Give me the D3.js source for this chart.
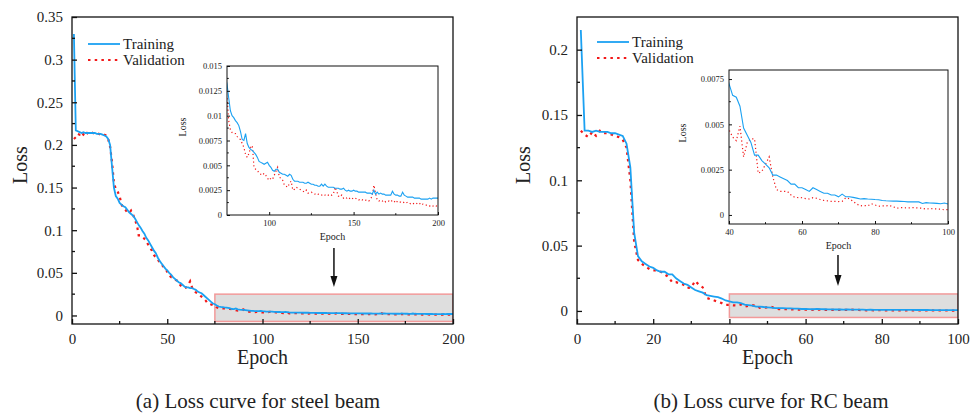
<!DOCTYPE html>
<html>
<head>
<meta charset="utf-8">
<script src="https://cdn.jsdelivr.net/npm/d3@7"></script>
<style>
  body { margin: 0; background: #fff; }
  text { font-family: "Times New Roman", "Liberation Serif", serif; fill: #222; }
</style>
</head>
<body>
<svg id="chart" width="976" height="413"></svg>
<script>
// ---- data ----
const trainA = [
  0.330, 0.217, 0.216, 0.215, 0.214, 0.215, 0.214, 0.214, 0.214, 0.214,
  0.214, 0.214, 0.213, 0.213, 0.213, 0.212, 0.211, 0.210, 0.207, 0.200,
  0.175, 0.150, 0.140, 0.137, 0.132, 0.130, 0.128, 0.127, 0.124, 0.121,
  0.119, 0.117, 0.114, 0.110, 0.106, 0.103, 0.099, 0.096, 0.091, 0.088,
  0.084, 0.080, 0.076, 0.073, 0.068, 0.064, 0.061, 0.058, 0.055, 0.053,
  0.050, 0.048, 0.045, 0.043, 0.041, 0.039, 0.038, 0.036, 0.034, 0.033,
  0.033, 0.032, 0.032, 0.031, 0.030, 0.028, 0.027, 0.026, 0.024, 0.022,
  0.020, 0.018, 0.016, 0.014, 0.0132, 0.0118, 0.0105, 0.0100, 0.0098, 0.0095,
  0.0093, 0.0090, 0.0084, 0.0076, 0.0075, 0.0082, 0.0072, 0.0068, 0.0066, 0.0065,
  0.0063, 0.0061, 0.0058, 0.0054, 0.0053, 0.0052, 0.0051, 0.0052, 0.0053, 0.0050,
  0.0048, 0.0045, 0.0044, 0.0046, 0.0046, 0.0043, 0.0042, 0.0041, 0.0041, 0.0040,
  0.0039, 0.0041, 0.0040, 0.0036, 0.0034, 0.0034, 0.0034, 0.0033, 0.0033, 0.0033,
  0.0032, 0.0032, 0.0033, 0.0032, 0.0031, 0.0031, 0.0030, 0.0030, 0.0029, 0.0029,
  0.0031, 0.0029, 0.0031, 0.0029, 0.0028, 0.0028, 0.0028, 0.0028, 0.0027, 0.0027,
  0.0027, 0.0026, 0.0026, 0.0027, 0.0025, 0.0024, 0.0025, 0.0024, 0.0024, 0.0025,
  0.0024, 0.0024, 0.0023, 0.0023, 0.0023, 0.0023, 0.0023, 0.0022, 0.0022, 0.0022,
  0.0021, 0.0025, 0.0021, 0.0023, 0.0021, 0.0022, 0.0021, 0.0021, 0.0020, 0.0020,
  0.0020, 0.0020, 0.0024, 0.0021, 0.0020, 0.0020, 0.0019, 0.0019, 0.0023, 0.0020,
  0.0019, 0.0018, 0.0018, 0.0018, 0.0018, 0.0017, 0.0017, 0.0017, 0.0017, 0.0016,
  0.0016, 0.0016, 0.0016, 0.0016, 0.0017, 0.0016, 0.0017, 0.0017, 0.0017, 0.0017
];
const valA = [
  0.207, 0.209, 0.213, 0.212, 0.215, 0.212, 0.210, 0.214, 0.213, 0.215,
  0.214, 0.213, 0.214, 0.213, 0.212, 0.213, 0.212, 0.211, 0.207, 0.198,
  0.180, 0.156, 0.148, 0.145, 0.140, 0.130, 0.126, 0.124, 0.121, 0.120,
  0.123, 0.119, 0.112, 0.107, 0.094, 0.094, 0.092, 0.090, 0.087, 0.083,
  0.079, 0.076, 0.071, 0.068, 0.066, 0.062, 0.060, 0.057, 0.055, 0.051,
  0.047, 0.045, 0.044, 0.042, 0.041, 0.038, 0.035, 0.033, 0.032, 0.033,
  0.036, 0.040, 0.033, 0.030, 0.027, 0.026, 0.024, 0.022, 0.020, 0.018,
  0.015, 0.014, 0.013, 0.012, 0.0120, 0.0095, 0.0086, 0.0083, 0.0082, 0.0082,
  0.0079, 0.0077, 0.0076, 0.0072, 0.0068, 0.0061, 0.0058, 0.0062, 0.0068, 0.0070,
  0.0048, 0.0046, 0.0045, 0.0042, 0.0041, 0.0040, 0.0042, 0.0040, 0.0037, 0.0035,
  0.0037, 0.0036, 0.0040, 0.0044, 0.0048, 0.0038, 0.0037, 0.0035, 0.0030, 0.0029,
  0.0028, 0.0032, 0.0034, 0.0025, 0.0026, 0.0028, 0.0027, 0.0026, 0.0025, 0.0024,
  0.0023, 0.0025, 0.0022, 0.0022, 0.0023, 0.0022, 0.0021, 0.0022, 0.0021, 0.0020,
  0.0020, 0.0021, 0.0020, 0.0021, 0.0020, 0.0019, 0.0020, 0.0021, 0.0028, 0.0024,
  0.0019, 0.0018, 0.0020, 0.0017, 0.0018, 0.0017, 0.0018, 0.0016, 0.0017, 0.0016,
  0.0017, 0.0016, 0.0015, 0.0016, 0.0015, 0.0016, 0.0015, 0.0015, 0.0014, 0.0016,
  0.0019, 0.0030, 0.0022, 0.0015, 0.0014, 0.0015, 0.0014, 0.0015, 0.0013, 0.0014,
  0.0014, 0.0013, 0.0015, 0.0014, 0.0012, 0.0014, 0.0013, 0.0013, 0.0012, 0.0013,
  0.0012, 0.0013, 0.0012, 0.0011, 0.0012, 0.0011, 0.0012, 0.0011, 0.0012, 0.0010,
  0.0011, 0.0010, 0.0010, 0.0010, 0.0009, 0.0010, 0.0009, 0.0010, 0.0009, 0.0010
];
const trainB = [
  0.215, 0.138, 0.138, 0.137, 0.138, 0.137, 0.137, 0.137, 0.136, 0.136,
  0.135, 0.134, 0.128, 0.110, 0.060, 0.042, 0.038, 0.036, 0.034, 0.033,
  0.031, 0.030, 0.030, 0.028, 0.028, 0.025, 0.023, 0.021, 0.020, 0.018,
  0.016, 0.015, 0.014, 0.012, 0.0115, 0.011, 0.0105, 0.0095, 0.0080, 0.00725,
  0.0066, 0.0065, 0.0060, 0.0048, 0.0044, 0.0040, 0.0033, 0.0033, 0.0030, 0.0028,
  0.0026, 0.0022, 0.0022, 0.0021, 0.0020, 0.0019, 0.0017, 0.0017, 0.0015, 0.0015,
  0.0014, 0.0013, 0.0015, 0.0014, 0.0013, 0.0012, 0.0012, 0.0011, 0.0011, 0.0010,
  0.00115, 0.0010, 0.0010, 0.00097, 0.00093, 0.00088, 0.00090, 0.00088, 0.00087, 0.00085,
  0.00084, 0.00080, 0.00078, 0.00077, 0.00076, 0.00076, 0.00075, 0.00074, 0.00072, 0.00073,
  0.00072, 0.00072, 0.00063, 0.00068, 0.00066, 0.00065, 0.00064, 0.00062, 0.00066, 0.00060
];
const valB = [
  0.138, 0.135, 0.133, 0.137, 0.134, 0.138, 0.136, 0.136, 0.135, 0.134,
  0.133, 0.131, 0.125, 0.100, 0.053, 0.039, 0.036, 0.034, 0.032, 0.031,
  0.031, 0.030, 0.028, 0.026, 0.022, 0.022, 0.021, 0.020, 0.0176, 0.018,
  0.023, 0.020, 0.018, 0.010, 0.009, 0.008, 0.007, 0.006, 0.0046, 0.0047,
  0.0043, 0.0041, 0.0049, 0.0032, 0.0040, 0.0042, 0.0042, 0.0023, 0.0024, 0.0028,
  0.0032, 0.0021, 0.0014, 0.0013, 0.0013, 0.0013, 0.0011, 0.00097, 0.00096, 0.00095,
  0.00090, 0.00088, 0.00095, 0.00092, 0.00085, 0.00080, 0.00078, 0.00075, 0.00075, 0.00074,
  0.00075, 0.00095, 0.00090, 0.00075, 0.00060, 0.00050, 0.00052, 0.00050, 0.00062, 0.00055,
  0.00048, 0.00050, 0.00050, 0.00052, 0.00045, 0.00037, 0.00040, 0.00040, 0.00039, 0.00040,
  0.00040, 0.00038, 0.00037, 0.00032, 0.00035, 0.00034, 0.00033, 0.00032, 0.00028, 0.00030
];

const seriesNames = ["Training", "Validation"];
const captions = ["(a) Loss curve for steel beam", "(b) Loss curve for RC beam"];

const mainXTicksA = [0, 50, 100, 150, 200];
const mainYTicksA = [0, 0.05, 0.1, 0.15, 0.2, 0.25, 0.3, 0.35];
const mainXTicksB = [0, 20, 40, 60, 80, 100];
const mainYTicksB = [0, 0.05, 0.1, 0.15, 0.2];
const insetXTicksA = [100, 150, 200];
const insetYTicksA = [0, 0.0025, 0.005, 0.0075, 0.01, 0.0125, 0.015];
const insetXTicksB = [40, 60, 80, 100];
const insetYTicksB = [0, 0.0025, 0.005, 0.0075];

const BLUE = "#1ba1f2";
const RED = "#f21818";
const FONT = '"Times New Roman", "Liberation Serif", serif';

const svg = d3.select("#chart");
svg.append("rect").attr("width", 976).attr("height", 413).attr("fill", "#fff");

let clipId = 0;

// draw one framed plot (used for both main charts and insets)
function drawPlot(o) {
  const x = d3.scaleLinear().domain(o.xDomain).range([o.left, o.right]);
  const y = d3.scaleLinear().domain(o.yDomain).range([o.bottom, o.top]);
  const g = svg.append("g");

  const id = "clip" + (clipId++);
  g.append("clipPath").attr("id", id).append("rect")
    .attr("x", o.left).attr("y", o.top)
    .attr("width", o.right - o.left).attr("height", o.bottom - o.top);

  const plot = g.append("g").attr("clip-path", "url(#" + id + ")");

  // zoom region marker
  if (o.zoomBox) {
    const b = o.zoomBox;
    plot.append("rect")
      .attr("x", x(b.x0)).attr("y", y(b.y1))
      .attr("width", x(b.x1) - x(b.x0)).attr("height", y(b.y0) - y(b.y1))
      .attr("fill", "#dedede").attr("stroke", "#f29a9a").attr("stroke-width", 1.5);
  }

  const line = d3.line()
    .x((d, i) => x(i + 1))
    .y(d => y(d));

  plot.append("path").datum(o.val)
    .attr("d", line).attr("fill", "none")
    .attr("stroke", RED).attr("stroke-width", o.valWidth)
    .attr("stroke-dasharray", o.valDash);
  plot.append("path").datum(o.train)
    .attr("d", line).attr("fill", "none")
    .attr("stroke", BLUE).attr("stroke-width", o.trainWidth);

  // axes with inward ticks
  const xAxis = d3.axisBottom(x).tickValues(o.xTicks).tickSizeInner(-o.tick).tickSizeOuter(0)
    .tickPadding(o.tick + o.pad).tickFormat(d => String(d));
  const yAxis = d3.axisLeft(y).tickValues(o.yTicks).tickSizeInner(-o.tick).tickSizeOuter(0)
    .tickPadding(o.tick + o.pad).tickFormat(d => String(d));

  const xa = g.append("g").attr("transform", "translate(0," + o.bottom + ")").call(xAxis);
  const ya = g.append("g").attr("transform", "translate(" + o.left + ",0)").call(yAxis);
  [xa, ya].forEach(a => {
    a.attr("font-family", FONT);
    a.select(".domain").remove();
    a.selectAll("line").attr("stroke", "#111").attr("stroke-width", o.frameWidth);
    a.selectAll("text").attr("font-size", o.tickFont)
      .style("font-family", FONT).attr("fill", "#222");
  });

  // minor ticks
  const minor = g.append("g");
  o.xMinor.forEach(v => {
    minor.append("line").attr("x1", x(v)).attr("x2", x(v))
      .attr("y1", o.bottom).attr("y2", o.bottom - o.tick * 0.6)
      .attr("stroke", "#111").attr("stroke-width", o.frameWidth);
  });
  o.yMinor.forEach(v => {
    minor.append("line").attr("x1", o.left).attr("x2", o.left + o.tick * 0.6)
      .attr("y1", y(v)).attr("y2", y(v))
      .attr("stroke", "#111").attr("stroke-width", o.frameWidth);
  });

  // frame
  g.append("rect")
    .attr("x", o.left).attr("y", o.top)
    .attr("width", o.right - o.left).attr("height", o.bottom - o.top)
    .attr("fill", "none").attr("stroke", "#111").attr("stroke-width", o.frameWidth);

  // axis titles
  g.append("text")
    .attr("x", (o.left + o.right) / 2).attr("y", o.xTitleY)
    .attr("text-anchor", "middle").attr("font-size", o.titleFont)
    .text("Epoch");
  g.append("text")
    .attr("transform", "translate(" + o.yTitleX + "," + o.yTitleY + ") rotate(-90)")
    .attr("text-anchor", "middle").attr("font-size", o.titleFont)
    .text("Loss");

  return { x, y };
}

function legend(x0, y0) {
  const g = svg.append("g");
  g.append("line").attr("x1", x0).attr("x2", x0 + 32).attr("y1", y0).attr("y2", y0)
    .attr("stroke", BLUE).attr("stroke-width", 1.8);
  g.append("line").attr("x1", x0).attr("x2", x0 + 32).attr("y1", y0 + 16).attr("y2", y0 + 16)
    .attr("stroke", RED).attr("stroke-width", 2.2).attr("stroke-dasharray", "2.5,4.2");
  seriesNames.forEach((n, i) => {
    g.append("text").attr("x", x0 + 35).attr("y", y0 + 5 + i * 16)
      .attr("font-size", 15).text(n);
  });
}

function arrow(xp, y0, y1) {
  svg.append("line").attr("x1", xp).attr("x2", xp).attr("y1", y0).attr("y2", y1 - 9)
    .attr("stroke", "#111").attr("stroke-width", 1.5);
  svg.append("path")
    .attr("d", "M" + (xp - 3.5) + "," + (y1 - 11) + "L" + (xp + 3.5) + "," + (y1 - 11) + "L" + xp + "," + y1 + "Z")
    .attr("fill", "#111");
}

const mainStyle = {
  tick: 5, pad: 4, tickFont: 15, titleFont: 20, frameWidth: 1.3,
  trainWidth: 1.8, valWidth: 2.2, valDash: "2.5,4.2"
};
const insetStyle = {
  tick: 3, pad: 2, tickFont: 8.5, titleFont: 10, frameWidth: 1,
  trainWidth: 1.1, valWidth: 1.2, valDash: "1.2,2.6"
};

// ---- panel (a) ----
const mA = drawPlot(Object.assign({}, mainStyle, {
  left: 72, right: 453, top: 17, bottom: 324,
  xDomain: [0, 200], yDomain: [-0.01, 0.35],
  xTicks: mainXTicksA, yTicks: mainYTicksA,
  xMinor: [25, 75, 125, 175], yMinor: [0.025, 0.075, 0.125, 0.175, 0.225, 0.275, 0.325],
  train: trainA, val: valA,
  zoomBox: { x0: 75, x1: 200, y0: -0.007, y1: 0.025 },
  xTitleY: 364, yTitleX: 27, yTitleY: 165
}));
svg.append("rect").attr("x", 226).attr("y", 65).attr("width", 213).attr("height", 151).attr("fill", "#fff");
drawPlot(Object.assign({}, insetStyle, {
  left: 227, right: 438, top: 66, bottom: 215,
  xDomain: [75, 200], yDomain: [0, 0.015],
  xTicks: insetXTicksA, yTicks: insetYTicksA,
  xMinor: [125, 175], yMinor: [0.00125, 0.00375, 0.00625, 0.00875, 0.01125, 0.01375],
  train: trainA, val: valA,
  xTitleY: 240, yTitleX: 186, yTitleY: 127
}));
legend(88, 44);
arrow(mA.x(137.5), 248, 287);

// ---- panel (b) ----
const mB = drawPlot(Object.assign({}, mainStyle, {
  left: 577, right: 958, top: 17, bottom: 324,
  xDomain: [0, 100], yDomain: [-0.01, 0.225],
  xTicks: mainXTicksB, yTicks: mainYTicksB,
  xMinor: [10, 30, 50, 70, 90], yMinor: [0.025, 0.075, 0.125, 0.175],
  train: trainB, val: valB,
  zoomBox: { x0: 40, x1: 100, y0: -0.005, y1: 0.013 },
  xTitleY: 364, yTitleX: 530, yTitleY: 165
}));
svg.append("rect").attr("x", 728).attr("y", 69).attr("width", 221).attr("height", 156).attr("fill", "#fff");
drawPlot(Object.assign({}, insetStyle, {
  left: 729, right: 948, top: 70, bottom: 224,
  xDomain: [40, 100], yDomain: [-0.0005, 0.008],
  xTicks: insetXTicksB, yTicks: insetYTicksB,
  xMinor: [50, 70, 90], yMinor: [0.00125, 0.00375, 0.00625],
  train: trainB, val: valB,
  xTitleY: 249, yTitleX: 686, yTitleY: 133
}));
legend(597, 42);
arrow(mB.x(68.5), 255, 286);

// ---- captions ----
svg.append("text").attr("x", 258).attr("y", 408).attr("text-anchor", "middle")
  .attr("font-size", 21).text(captions[0]);
svg.append("text").attr("x", 771).attr("y", 408).attr("text-anchor", "middle")
  .attr("font-size", 21).text(captions[1]);
</script>
</body>
</html>
